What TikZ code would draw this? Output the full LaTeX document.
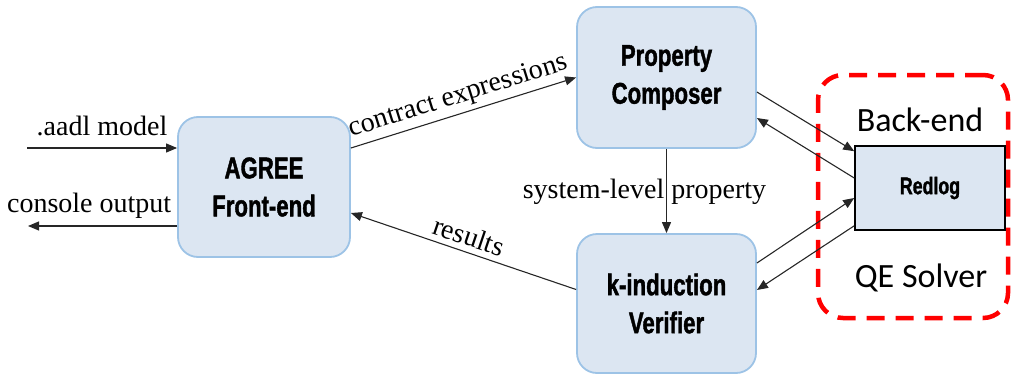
\documentclass[tikz,border=0pt]{standalone}
\usepackage{fontspec}
\setmainfont{Liberation Serif}
\newfontfamily\boxfont[FakeStretch=0.74, BoldFeatures={FakeBold=1.3}]{Liberation Sans}
\newfontfamily\calfont{Carlito}
\usetikzlibrary{arrows.meta}
\definecolor{boxfill}{HTML}{DCE6F2}
\definecolor{boxborder}{HTML}{9DC3E6}
\definecolor{dashred}{HTML}{FF0000}
\begin{document}
\begin{tikzpicture}[x=1pt,y=-1pt,
  proc/.style={draw=boxborder, line width=1.8pt, fill=boxfill, rounded corners=20pt,
    align=center, inner sep=0pt, font=\boxfont\bfseries\fontsize{30}{38}\selectfont},
  solver/.style={draw=black, line width=1.6pt, fill=boxfill, inner sep=0pt,
    font=\boxfont\bfseries\fontsize{24}{28}\selectfont},
  group/.style={draw=dashred, line width=4.5pt, dash pattern=on 18pt off 11pt, rounded corners=25pt, inner sep=0pt},
  grouplabel/.style={font=\calfont\fontsize{34}{40}\selectfont, inner sep=0pt},
  conn/.style={draw=black!85, line width=1.1pt, -{Triangle[length=11pt,width=9pt]}},
  lbl/.style={font=\fontsize{28}{30}\selectfont, inner sep=0pt},
]
\useasboundingbox (0,0) rectangle (1011,375);

\node[group, minimum width=190pt, minimum height=243pt] (backend) at (913,196.5) {};
\node[grouplabel] (backlbl) at (920,120) {Back-end};
\node[grouplabel] (qelbl) at (921,278) {QE Solver};

\node[proc, minimum width=172pt, minimum height=140pt] (agree) at (264,187) {AGREE\\Front-end};
\node[proc, minimum width=179pt, minimum height=141pt] (pc) at (666.5,77.5) {Property\\Composer};
\node[proc, minimum width=179pt, minimum height=139pt] (verif) at (666.5,303.5) {k-induction\\Verifier};
\node[solver, minimum width=150pt, minimum height=84pt] (redlog) at (930,188) {Redlog};

\coordinate (inmodel) at (27,148);
\coordinate (outconsole) at (28,226);

\draw[conn] (inmodel) -- ([yshift=39pt]agree.west)
  node[lbl, midway, above=12pt] (aadllbl) {.aadl model};
\draw[conn] ([yshift=-39pt]agree.west) -- (outconsole)
  node[lbl, pos=0.59, above=7pt] (conslbl) {console output};

\draw[conn] ([yshift=39pt]agree.east) -- (pc.west)
  node[lbl, midway, sloped, above=4pt] (contrlbl) {contract expressions};
\draw[conn, {Triangle[length=11pt,width=9pt]}-] ([yshift=-26pt]agree.east) -- ([yshift=14pt]verif.west)
  node[lbl, midway, sloped, above=6pt] (reslbl) {results};

\draw[conn] (pc.south) -- (verif.north)
  node[lbl, midway, xshift=-22pt, yshift=-1pt] (syslbl) {system-level property};

\draw[conn] ([yshift=-14.5pt]pc.east) -- ([yshift=-6pt]redlog.north west);
\draw[conn] ([yshift=10pt]redlog.west) -- ([yshift=-40.5pt]pc.east);
\draw[conn] ([yshift=40.5pt]verif.east) -- ([yshift=-10pt]redlog.west);
\draw[conn] ([yshift=5pt]redlog.south west) -- ([yshift=13.5pt]verif.east);
\end{tikzpicture}
\end{document}
